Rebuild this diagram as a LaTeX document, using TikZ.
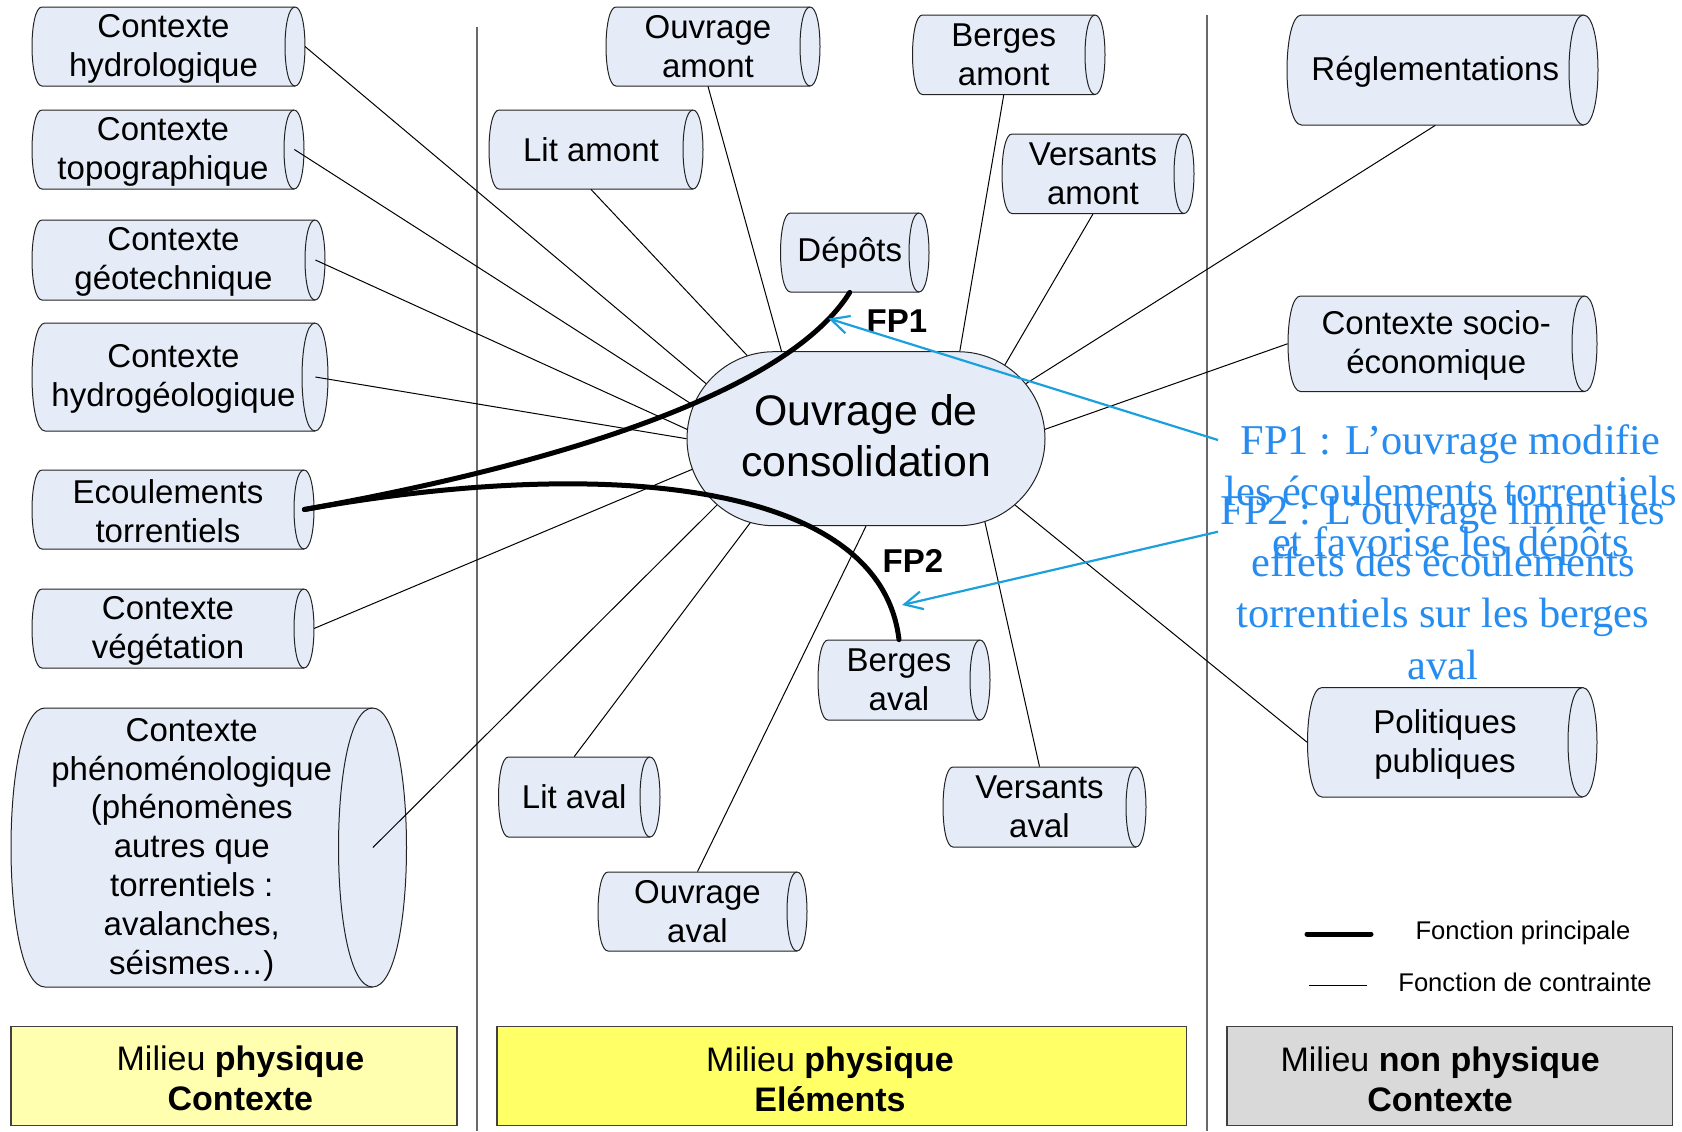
\documentclass[tikz,border=0pt]{standalone}
\usepackage{fontspec}
\setmainfont{Liberation Sans}
\newfontfamily\bluefont{Liberation Serif}
\usetikzlibrary{shapes.misc,arrows.meta}

\definecolor{cylfill}{RGB}{229,236,247}
\definecolor{cyledge}{RGB}{35,35,35}
\definecolor{fpblue}{RGB}{27,160,222}
\definecolor{fptext}{RGB}{38,140,240}
\definecolor{palesun}{RGB}{255,255,175}
\definecolor{brightsun}{RGB}{255,255,102}
\definecolor{lightgrey}{RGB}{217,217,217}
\definecolor{divgrey}{RGB}{105,105,105}

\newcommand\fsmain{\fontsize{16.5}{19.4}\selectfont}
\newcommand\fscentral{\fontsize{21.4}{25.7}\selectfont}
\newcommand\fsbase{\fontsize{17}{19.9}\selectfont}
\newcommand\fslegend{\fontsize{12.8}{15}\selectfont}
\newcommand\fsblue{\bluefont\fontsize{21.2}{25.7}\selectfont}

\tikzset{
  x=0.5pt, y=-0.5pt,
  cylshape/.style={draw=cyledge, line width=0.5pt},
  cylcore/.style={inner sep=0pt},
  cyltext/.style={inner sep=0pt, align=center, font=\fsmain},
  centre/.style={rounded rectangle, draw=cyledge, fill=cylfill, line width=0.5pt,
    minimum width=179pt, minimum height=87pt, inner sep=0pt},
  centretext/.style={font=\fscentral, align=center, inner sep=0pt},
  cline/.style={draw=black, line width=0.5pt},
  fpline/.style={draw=black, line width=2.5pt, line cap=round},
  bluearrow/.style={draw=fpblue, line width=1.1pt,
    -{Straight Barb[length=9pt, width=9pt, line width=1.1pt]}},
  bluetext/.style={font=\fsblue, text=fptext, align=center, inner sep=0pt},
  fplabel/.style={font=\fsmain\bfseries, inner sep=0pt},
  legtext/.style={font=\fslegend, inner sep=0pt},
  basebox/.style={draw=black!75, line width=0.6pt, inner sep=0pt, minimum height=49.5pt},
  basetext/.style={font=\fsbase, align=center, inner sep=0pt},
  divider/.style={draw=divgrey, line width=0.8pt},
}

% horizontal cylinder: [text shift] name, x0, y0, x1, y1, end radius, text
% the node covers the body up to the centre of the front ellipse
\newcommand\cylnode[8][-1pt]{%
  \pgfmathsetmacro\cylXa{#3+#7}%
  \pgfmathsetmacro\cylXb{#5-#7}%
  \pgfmathsetmacro\cylK{4/3*#7}%
  \pgfmathsetmacro\cylYm{(#4+#6)/2}%
  \pgfmathsetmacro\cylW{(\cylXb-#3)*0.5}%
  \pgfmathsetmacro\cylH{(#6-#4)*0.5}%
  \filldraw[cylshape, fill=cylfill] (\cylXa,#4) -- (\cylXb,#4)
     .. controls ({\cylXb+\cylK},#4) and ({\cylXb+\cylK},#6) .. (\cylXb,#6)
     -- (\cylXa,#6)
     .. controls ({\cylXa-\cylK},#6) and ({\cylXa-\cylK},#4) .. cycle;
  \draw[cylshape] (\cylXb,#4) .. controls ({\cylXb-\cylK},#4) and ({\cylXb-\cylK},#6) .. (\cylXb,#6);
  \node[cylcore, minimum width=\cylW pt, minimum height=\cylH pt,
        label={[cyltext, yshift=#1]center:{#8}}] (#2) at ({(#3+\cylXb)/2},\cylYm) {};
  \coordinate (#2-r) at (#5,\cylYm);
}

\begin{document}
\begin{tikzpicture}
\fill[white] (0,0) rectangle (1682,1131);
\useasboundingbox (0,0) rectangle (1682,1131);

% column separators
\draw[divider] (477,27) -- (477,1131);
\draw[divider] (1207,15) -- (1207,1131);

% physical context
\cylnode{hydro}{32}{7}{305}{86}{10}{Contexte\\hydrologique}
\cylnode{topo}{32}{110}{304}{189}{10}{Contexte\\topographique}
\cylnode{geot}{32}{220}{325}{300}{10}{Contexte\\géotechnique}
\cylnode{hgeo}{32}{323}{328}{431}{13}{Contexte\\hydrogéologique}
\cylnode{ecou}{32}{470}{314}{549}{10}{Ecoulements\\torrentiels}
\cylnode{vege}{32}{589}{314}{668}{10}{Contexte\\végétation}
\cylnode{pheno}{11}{708}{406.5}{987}{34}{Contexte\\phénoménologique\\(phénomènes\\autres que\\torrentiels :\\avalanches,\\séismes…)}

% physical elements
\cylnode[0pt]{ouvam}{606}{7}{820}{86}{10}{Ouvrage\\amont}
\cylnode[0pt]{litam}{489}{110}{703}{189}{10}{Lit amont}
\cylnode[0pt]{bergam}{912.5}{15}{1105}{94.5}{10}{Berges\\amont}
\cylnode[0pt]{versam}{1002}{134}{1194}{213.5}{10}{Versants\\amont}
\cylnode[0pt]{dep}{780.5}{213}{929}{292}{10}{Dépôts}
\cylnode[0pt]{bav}{818}{640}{990}{720}{10}{Berges\\aval}
\cylnode[0pt]{litav}{498.5}{757}{660}{837}{10}{Lit aval}
\cylnode[0pt]{versav}{943}{767}{1146}{847}{10}{Versants\\aval}
\cylnode[0pt]{ouvav}{598}{872}{807}{951}{10}{Ouvrage\\aval}

% non-physical context
\cylnode{regl}{1287}{15}{1598}{125}{14.5}{Réglementations}
\cylnode{socio}{1288}{296}{1597}{391.5}{12.5}{Contexte socio-\\économique}
\cylnode{polit}{1307.5}{687.5}{1597}{797}{14.5}{Politiques\\publiques}

% the structure under study
\node[centre, label={[centretext, yshift=1.4pt]center:Ouvrage de\\consolidation}] (ouv) at (866,438.7) {};

% constraint functions
\draw[cline] (hydro-r) -- (ouv.161);
\draw[cline] (topo.east) -- (ouv.169);
\draw[cline] (geot.east) -- (ouv.177);
\draw[cline] (hgeo.east) -- (ouv.180);
\draw[cline] (vege-r) -- (ouv.190);
\draw[cline] (pheno.east) -- (ouv.204);
\draw[cline] (litam.south) -- (ouv.145);
\draw[cline] (ouvam.south) -- (ouv.134);
\draw[cline] (bergam.south) -- (ouv.43);
\draw[cline] (versam.south) -- (ouv.28);
\draw[cline] (regl.south) -- (ouv.19);
\draw[cline] (socio.west) -- (ouv.3);
\draw[cline] (polit.west) -- (ouv.336);
\draw[cline] (versav.north) -- (ouv.325);
\draw[cline] (ouvav.north) -- (ouv.270);
\draw[cline] (litav.north) -- (ouv.216);

% main functions
\draw[fpline] (ecou.east) .. controls (553,465) and (786,394) .. (dep.south);
\draw[fpline] (ecou.east) .. controls (603,456) and (880,480) .. (bav.north);
\node[fplabel] (fpa) at (897,321) {FP1};
\node[fplabel] (fpb) at (913,561) {FP2};

% descriptions of the main functions
\node[bluetext] (fpatext) at (1450.5,495) {FP1 : L’ouvrage modifie\\les écoulements torrentiels\\et favorise les dépôts};
\node[bluetext] (fpbtext) at (1443,587.5) {FP2 : L’ouvrage limite les\\effets des écoulements\\torrentiels sur les berges\\aval};
\coordinate (fpatail) at (1218,440);
\coordinate (fpahead) at (828.5,318.5);
\coordinate (fpbtail) at (1218,531.7);
\coordinate (fpbhead) at (902,605);
\draw[bluearrow] (fpatail) -- (fpahead);
\draw[bluearrow] (fpbtail) -- (fpbhead);

% legend
\coordinate (legAa) at (1307,934);
\coordinate (legAb) at (1371,934);
\coordinate (legBa) at (1309,985);
\coordinate (legBb) at (1367,985);
\draw[fpline] (legAa) -- (legAb);
\draw[cline] (legBa) -- (legBb);
\node[legtext] (legA) at (1523,933) {Fonction principale};
\node[legtext] (legB) at (1525,982) {Fonction de contrainte};

% column captions
\node[basebox, fill=palesun, minimum width=223pt,
      label={[basetext, xshift=3.2pt, yshift=-1pt]center:Milieu \textbf{physique}\\\textbf{Contexte}}] (zoneA) at (234,1076) {};
\node[basebox, fill=brightsun, minimum width=344.75pt,
      label={[basetext, xshift=-5.9pt, yshift=-1.5pt]center:Milieu \textbf{physique}\\\textbf{Eléments}}] (zoneB) at (841.75,1076) {};
\node[basebox, fill=lightgrey, minimum width=222.75pt,
      label={[basetext, xshift=-4.8pt, yshift=-1.5pt]center:Milieu \textbf{non physique}\\\textbf{Contexte}}] (zoneC) at (1449.75,1076) {};
\end{tikzpicture}
\end{document}
